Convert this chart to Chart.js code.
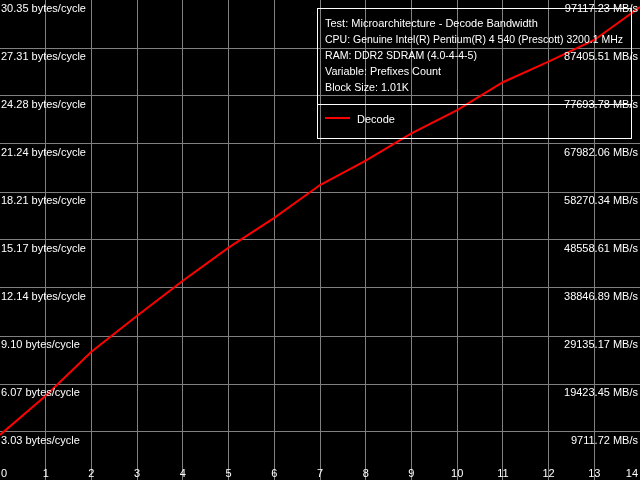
<!DOCTYPE html>
<html>
<head>
<meta charset="utf-8">
<script src="https://cdn.jsdelivr.net/npm/chart.js@4.4.0/dist/chart.umd.min.js"></script>
<style>
html,body{margin:0;padding:0;background:#000;}
canvas{display:block;}
</style>
</head>
<body>
<canvas id="c" width="640" height="480"></canvas>
<script>
// ---- data ----
const xValues = [0,1,2,3,4,5,6,7,8,9,10,11,12,13,14];
const decodeValues = [2.85,5.33,8.11,10.39,12.60,14.69,16.57,18.65,20.19,21.91,23.39,25.15,26.45,27.82,29.91];
const yMax = 30.3487;
const yTickValues = [3.0349,6.0697,9.1046,12.1395,15.1744,18.2092,21.2441,24.2790,27.3138,30.3487];
const leftLabels = ['3.03 bytes/cycle','6.07 bytes/cycle','9.10 bytes/cycle','12.14 bytes/cycle','15.17 bytes/cycle','18.21 bytes/cycle','21.24 bytes/cycle','24.28 bytes/cycle','27.31 bytes/cycle','30.35 bytes/cycle'];
const rightLabels = ['9711.72 MB/s','19423.45 MB/s','29135.17 MB/s','38846.89 MB/s','48558.61 MB/s','58270.34 MB/s','67982.06 MB/s','77693.78 MB/s','87405.51 MB/s','97117.23 MB/s'];
const xTickValues = [0,1,2,3,4,5,6,7,8,9,10,11,12,13,14];
const infoLines = ['Test: Microarchitecture - Decode Bandwidth','CPU: Genuine Intel(R) Pentium(R) 4 540 (Prescott) 3200.1 MHz','RAM: DDR2 SDRAM (4.0-4-4-5)','Variable: Prefixes Count','Block Size: 1.01K'];
const seriesName = 'Decode';

const FONT = '11px "Liberation Sans", Arial, sans-serif';
const INFO_MAX_W = [214, 298, 152, 116, 84];

const labelPlugin = {
  id: 'labels',
  afterDraw(chart) {
    const ctx = chart.ctx;
    const xs = chart.scales.x, ys = chart.scales.y;
    ctx.save();
    ctx.font = FONT;
    ctx.fillStyle = '#fff';
    ctx.textBaseline = 'alphabetic';
    yTickValues.forEach((v, i) => {
      const py = Math.round(ys.getPixelForValue(v));
      ctx.textAlign = 'left';
      ctx.fillText(leftLabels[i], 1, py + 12);
      ctx.textAlign = 'right';
      ctx.fillText(rightLabels[i], 638, py + 12);
    });
    xTickValues.forEach((v, i) => {
      const px = xs.getPixelForValue(v);
      if (i === 0) { ctx.textAlign = 'left'; ctx.fillText(String(v), px + 1, 477); }
      else if (i === xTickValues.length - 1) { ctx.textAlign = 'right'; ctx.fillText(String(v), px - 2, 477); }
      else { ctx.textAlign = 'center'; ctx.fillText(String(v), px, 477); }
    });
    ctx.strokeStyle = '#fff';
    ctx.lineWidth = 1;
    ctx.strokeRect(317.5, 8.5, 314, 130);
    ctx.beginPath();
    ctx.moveTo(317.5, 104.5); ctx.lineTo(631.5, 104.5);
    ctx.stroke();
    ctx.textAlign = 'left';
    infoLines.forEach((t, i) => ctx.fillText(t, 325, 27 + i * 16, INFO_MAX_W[i]));
    ctx.strokeStyle = '#ff0000';
    ctx.lineWidth = 2;
    ctx.beginPath();
    ctx.moveTo(325, 118); ctx.lineTo(350, 118);
    ctx.stroke();
    ctx.fillText(seriesName, 357, 123);
    ctx.restore();
  }
};

new Chart(document.getElementById('c'), {
  type: 'line',
  data: {
    labels: xValues,
    datasets: [{
      label: seriesName,
      data: xValues.map((x, i) => ({x: x, y: decodeValues[i]})),
      borderColor: '#ff0000',
      borderWidth: 2,
      pointRadius: 0,
      tension: 0,
      fill: false,
      clip: false
    }]
  },
  options: {
    responsive: false,
    animation: false,
    devicePixelRatio: 1,
    layout: { padding: 0 },
    plugins: { legend: { display: false }, tooltip: { enabled: false } },
    scales: {
      x: {
        type: 'linear', min: 0, max: 14,
        afterBuildTicks(s) { s.ticks = xTickValues.slice(1, -1).map(v => ({value: v})); },
        ticks: { display: false },
        grid: { color: '#808080', lineWidth: 1, drawTicks: false },
        border: { display: false }
      },
      y: {
        type: 'linear', min: 0, max: yMax,
        afterBuildTicks(s) { s.ticks = yTickValues.slice(0, -1).map(v => ({value: v})); },
        ticks: { display: false },
        grid: { color: '#808080', lineWidth: 1, drawTicks: false },
        border: { display: false }
      }
    }
  },
  plugins: [labelPlugin]
});
</script>
</body>
</html>
